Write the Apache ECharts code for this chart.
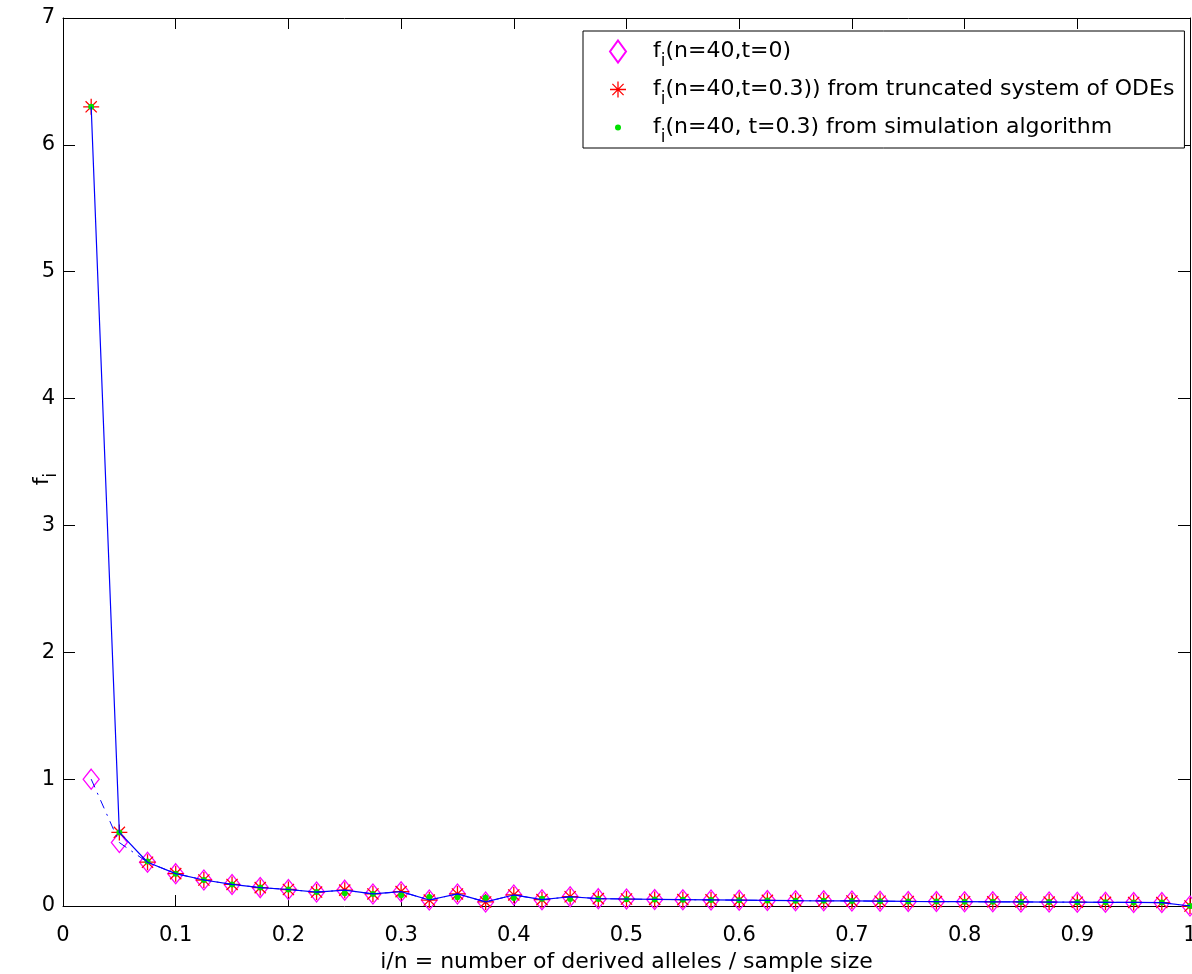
<!DOCTYPE html>
<html>
<head>
<meta charset="utf-8">
<script src="https://cdn.jsdelivr.net/npm/echarts@6/dist/echarts.min.js"></script>
<style>
html, body { margin: 0; padding: 0; background: #fff; }
#chart { width: 1192px; height: 974px; }
</style>
</head>
<body>
<div id="chart"></div>
<script>
// i/n for n = 40
var xValues = [0.025, 0.05, 0.075, 0.1, 0.125, 0.15, 0.175, 0.2, 0.225, 0.25,
    0.275, 0.3, 0.325, 0.35, 0.375, 0.4, 0.425, 0.45, 0.475, 0.5,
    0.525, 0.55, 0.575, 0.6, 0.625, 0.65, 0.675, 0.7, 0.725, 0.75,
    0.775, 0.8, 0.825, 0.85, 0.875, 0.9, 0.925, 0.95, 0.975, 1.0];
// f_i(n=40, t=0)
var fT0 = [1.0, 0.5, 0.345, 0.255, 0.205, 0.17, 0.145, 0.13, 0.11, 0.125,
    0.095, 0.113, 0.047, 0.095, 0.032, 0.087, 0.05, 0.073, 0.058, 0.055,
    0.052, 0.05, 0.048, 0.046, 0.044, 0.042, 0.041, 0.04, 0.038, 0.036,
    0.035, 0.034, 0.033, 0.032, 0.031, 0.03, 0.029, 0.028, 0.027, 0.0];
// f_i(n=40, t=0.3) from truncated system of ODEs
var fOde = [6.3, 0.58, 0.345, 0.255, 0.205, 0.17, 0.145, 0.13, 0.11, 0.125,
    0.095, 0.113, 0.047, 0.095, 0.032, 0.087, 0.05, 0.073, 0.058, 0.055,
    0.052, 0.05, 0.048, 0.046, 0.044, 0.042, 0.041, 0.04, 0.038, 0.036,
    0.035, 0.034, 0.033, 0.032, 0.031, 0.03, 0.029, 0.028, 0.027, 0.0];
// f_i(n=40, t=0.3) from simulation algorithm
var fSim = [6.3, 0.58, 0.35, 0.255, 0.205, 0.17, 0.145, 0.13, 0.11, 0.1,
    0.095, 0.084, 0.071, 0.068, 0.065, 0.063, 0.058, 0.056, 0.055, 0.054,
    0.052, 0.05, 0.048, 0.046, 0.044, 0.042, 0.041, 0.04, 0.038, 0.036,
    0.035, 0.034, 0.033, 0.032, 0.031, 0.03, 0.029, 0.028, 0.027, 0.0];
var xTicks = [0, 0.1, 0.2, 0.3, 0.4, 0.5, 0.6, 0.7, 0.8, 0.9, 1];
var yTicks = [0, 1, 2, 3, 4, 5, 6, 7];

var legendNames = ['f_i(n=40,t=0)', 'f_i(n=40,t=0.3)) from truncated system of ODEs', 'f_i(n=40, t=0.3) from simulation algorithm'];

function pairs(ys) {
    var out = [];
    for (var i = 0; i < xValues.length; i++) {
        out.push([xValues[i], ys[i]]);
    }
    return out;
}

var starPath = 'path://M46 0L54 0L54 100L46 100Z M0 46L100 46L100 54L0 54Z ' +
    'M17.8 12.2L87.8 82.2L82.2 87.8L12.2 17.8Z M87.8 17.8L17.8 87.8L12.2 82.2L82.2 12.2Z';
var dotIcon = 'path://M0 0M16 16M5 8A3 3 0 1 0 11 8A3 3 0 1 0 5 8Z';

var FONT = 'DejaVu Sans';
var subRich = {
    n: { fontSize: 22, fontFamily: FONT, color: '#000', lineHeight: 22 },
    s: { fontSize: 17, fontFamily: FONT, color: '#000', lineHeight: 16, padding: [20, 0, 0, 0] }
};

var chart = echarts.init(document.getElementById('chart'));
var option = {
    backgroundColor: '#fff',
    animation: false,
    textStyle: { fontFamily: FONT },
    grid: { left: 63, right: 2, top: 18, bottom: 68, containLabel: false, outerBoundsMode: 'none' },
    xAxis: [{
        type: 'value', min: 0, max: 1, interval: 0.1,
        name: 'i/n = number of derived alleles / sample size',
        nameLocation: 'middle', nameGap: 42,
        nameTextStyle: { fontSize: 22, color: '#000', fontFamily: FONT },
        axisLine: { onZero: false, lineStyle: { color: '#000', width: 1 } },
        axisTick: { inside: true, length: 11, lineStyle: { color: '#000' } },
        axisLabel: { fontSize: 21, color: '#000', margin: 19, fontFamily: FONT,
            formatter: function (v) { return xTicks.indexOf(Math.round(v * 10) / 10) >= 0 ? String(Math.round(v * 10) / 10) : ''; } },
        splitLine: { show: false }
    }, {
        type: 'value', min: 0, max: 1, interval: 0.1, position: 'top',
        axisLine: { onZero: false, lineStyle: { color: '#000', width: 1 } },
        axisTick: { inside: true, length: 11, lineStyle: { color: '#000' } },
        axisLabel: { show: false },
        splitLine: { show: false }
    }],
    yAxis: [{
        type: 'value', min: 0, max: 7, interval: 1,
        name: '{n|f}{s|i}',
        nameLocation: 'middle', nameGap: 10, nameRotate: 90,
        nameMoveOverlap: false,
        nameTextStyle: { rich: subRich, padding: [0, 34, 0, 0] },
        axisLine: { onZero: false, lineStyle: { color: '#000', width: 1 } },
        axisTick: { inside: true, length: 12, lineStyle: { color: '#000' } },
        axisLabel: { fontSize: 21, color: '#000', margin: 8, fontFamily: FONT,
            formatter: function (v) { return yTicks.indexOf(v) >= 0 ? String(v) : ''; } },
        splitLine: { show: false }
    }, {
        type: 'value', min: 0, max: 7, interval: 1, position: 'right',
        axisLine: { onZero: false, lineStyle: { color: '#000', width: 1 } },
        axisTick: { inside: true, length: 12, lineStyle: { color: '#000' } },
        axisLabel: { show: false },
        splitLine: { show: false }
    }],
    legend: {
        orient: 'vertical',
        left: 583, top: 31,
        padding: [2, 10, 2, 26],
        itemGap: 1,
        itemWidth: 16, itemHeight: 22,
        backgroundColor: '#fff',
        borderColor: '#000', borderWidth: 1, borderRadius: 0,
        data: [
            { name: legendNames[0] },
            { name: legendNames[1] },
            { name: legendNames[2], icon: dotIcon }
        ],
        formatter: function (name) {
            return '{n|f}{s|i}{n|' + name.slice(3) + '}';
        },
        textStyle: { rich: subRich, padding: [0, 0, 0, 22] }
    },
    series: [
        {
            name: 't0line', type: 'line', data: pairs(fT0),
            symbol: 'none', silent: true,
            lineStyle: { color: '#0000ff', width: 1, type: [9, 6, 2, 6] }
        },
        {
            name: 'odeline', type: 'line', data: pairs(fOde),
            symbol: 'none', silent: true,
            lineStyle: { color: '#0000ff', width: 1.2, type: 'solid' }
        },
        {
            name: legendNames[0], type: 'scatter', data: pairs(fT0),
            symbol: 'diamond', symbolSize: [16, 20],
            itemStyle: { color: 'rgba(255,255,255,0)', borderColor: '#ff00ff', borderWidth: 1.3, opacity: 1 }
        },
        {
            name: legendNames[1], type: 'scatter', data: pairs(fOde),
            symbol: starPath, symbolSize: 16,
            itemStyle: { color: '#ff0000', opacity: 1 }
        },
        {
            name: legendNames[2], type: 'scatter', data: pairs(fSim),
            symbol: 'circle', symbolSize: 6,
            itemStyle: { color: '#00e000', opacity: 1 }
        }
    ]
};
chart.setOption(option);
</script>
</body>
</html>
